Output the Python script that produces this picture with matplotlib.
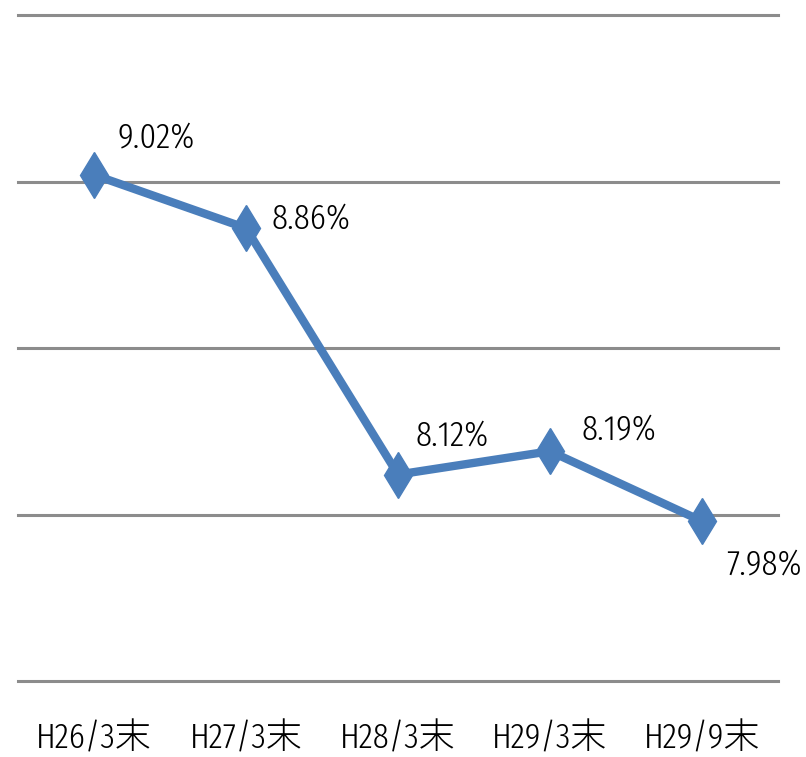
import matplotlib
matplotlib.use('Agg')
import matplotlib.pyplot as plt

# data
periods = ['H26/3末', 'H27/3末', 'H28/3末', 'H29/3末', 'H29/9末']
ratios = [9.02, 8.86, 8.12, 8.19, 7.98]
grid_vals = [7.5, 8.0, 8.5, 9.0, 9.5]

# label offsets (pixels) as in the original
label_offsets = [(62, 37), (65, 9), (54, 39), (69, 22), (62, -43)]

FONT = ['Fira Sans Extra Condensed', 'Noto Sans CJK JP', 'DejaVu Sans']
LINE_C = '#4A7EBB'

fig = plt.figure(figsize=(8.06, 7.57), dpi=100)
ax = fig.add_axes([18 / 806, 76 / 757, 760 / 806, 666 / 757])

for g in grid_vals:
    ax.axhline(g, color='#8C8C8C', linewidth=2.2, zorder=1, clip_on=False)

x = list(range(len(periods)))
ax.plot(x, ratios, color=LINE_C, linewidth=6, marker='d', markersize=23,
        markeredgecolor=LINE_C, markerfacecolor=LINE_C, zorder=3)

for i, v in enumerate(ratios):
    dx, dy = label_offsets[i]
    ax.annotate(f'{v:.2f}%', (i, v), xytext=(dx * 0.72, dy * 0.72),
                textcoords='offset points', ha='center', va='center',
                fontsize=26, family=FONT, fontweight=300)

ax.set_xlim(-0.5, 4.5)
ax.set_ylim(7.5, 9.5)
ax.set_xticks(x)
ax.set_xticklabels(periods, family=FONT, fontsize=26, fontweight=300)
ax.tick_params(axis='x', length=0, pad=29)
ax.set_yticks([])
for s in ax.spines.values():
    s.set_visible(False)

fig.savefig('out.png', dpi=100, facecolor='white')
